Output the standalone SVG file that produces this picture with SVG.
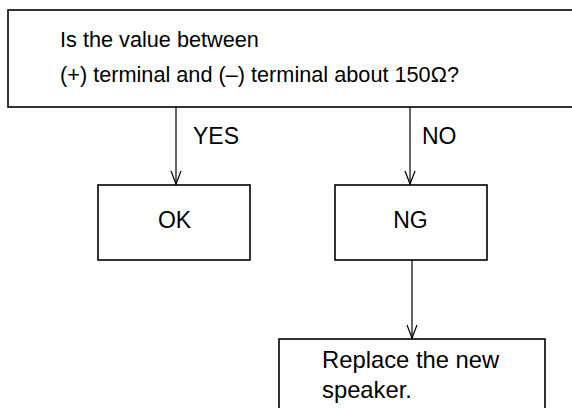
<svg xmlns="http://www.w3.org/2000/svg" width="572" height="408" viewBox="0 0 572 408">
<style>
.box{fill:#fff;stroke:#000;stroke-width:1.6}
.t{font-family:"Liberation Sans",Arial,sans-serif;font-size:23px;fill:#000}
.q{font-size:21.7px}
.r{font-size:23.8px}
.c{fill:none;stroke:#000;stroke-width:1.2}
</style>
<g id="connectors">
<line class="c" x1="176" y1="107" x2="176" y2="185"/>
<path class="c" d="M171,171 L176,184 L181,171"/>
<line class="c" x1="410" y1="107" x2="410" y2="185"/>
<path class="c" d="M405,171 L410,184 L415,171"/>
<line class="c" x1="412" y1="260" x2="412" y2="339"/>
<path class="c" d="M407,325 L412,338 L417,325"/>
<text class="t" x="193" y="144">YES</text>
<text class="t" x="422" y="144">NO</text>
</g>
<g id="question">
<rect class="box" x="8" y="10" width="570" height="97"/>
<text class="t q" x="60" y="47">Is the value between</text>
<text class="t q" x="60" y="82">(+) terminal and (–) terminal about 150Ω?</text>
</g>
<g id="ok">
<rect class="box" x="98" y="185" width="152" height="75"/>
<text class="t" x="174.5" y="228" text-anchor="middle">OK</text>
</g>
<g id="ng">
<rect class="box" x="335" y="185" width="152" height="75"/>
<text class="t" x="410.5" y="228" text-anchor="middle">NG</text>
</g>
<g id="replace">
<rect class="box" x="279" y="339" width="266" height="80"/>
<text class="t r" x="322" y="368">Replace the new</text>
<text class="t r" x="322" y="398">speaker.</text>
</g>
</svg>
